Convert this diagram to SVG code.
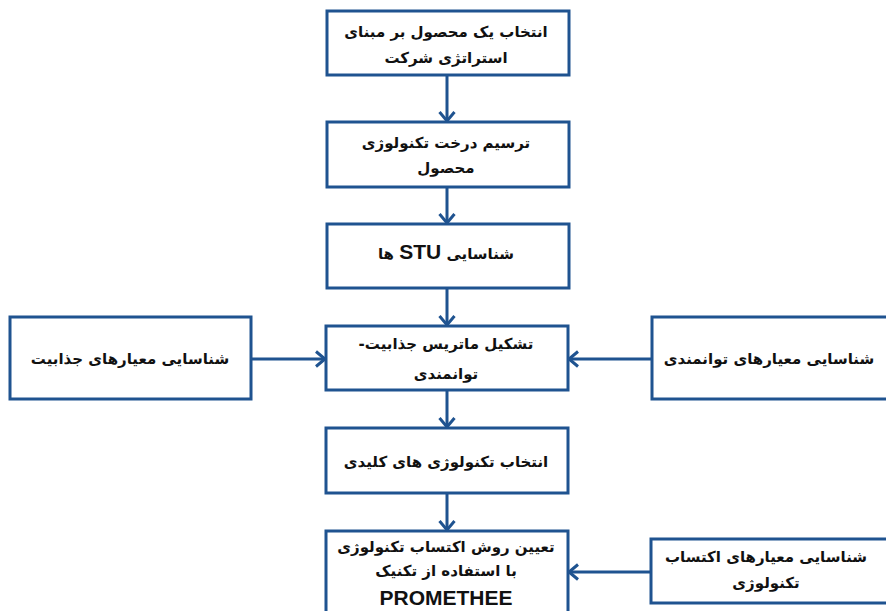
<svg xmlns="http://www.w3.org/2000/svg" width="886" height="611" viewBox="0 0 886 611">
<defs>
<style>
.box{fill:#fff;stroke:#1f5390;stroke-width:3}
.conn{stroke:#1f5390;stroke-width:3;fill:none}
.t{font-family:"DejaVu Sans",sans-serif;font-weight:bold;font-size:15px;fill:#111;text-anchor:middle;direction:rtl}
.lat{font-family:"Liberation Sans",Arial,sans-serif;font-weight:bold;font-size:21px;fill:#111}
</style>
<marker id="ah" markerUnits="userSpaceOnUse" markerWidth="16" markerHeight="18" refX="10" refY="9" orient="auto">
<path d="M1,1.5 L10,9 L1,16.5" fill="none" stroke="#1f5390" stroke-width="3"/>
</marker>
</defs>
<rect width="886" height="611" fill="#fff"/>
<g id="connectors">
<line class="conn" x1="447" y1="75" x2="447" y2="121" marker-end="url(#ah)"/>
<line class="conn" x1="447" y1="187" x2="447" y2="223" marker-end="url(#ah)"/>
<line class="conn" x1="447" y1="288" x2="447" y2="325" marker-end="url(#ah)"/>
<line class="conn" x1="447" y1="390" x2="447" y2="427" marker-end="url(#ah)"/>
<line class="conn" x1="447" y1="493" x2="447" y2="530" marker-end="url(#ah)"/>
<line class="conn" x1="251" y1="359" x2="325" y2="359" marker-end="url(#ah)"/>
<line class="conn" x1="652" y1="359" x2="569" y2="359" marker-end="url(#ah)"/>
<line class="conn" x1="651" y1="572" x2="569" y2="572" marker-end="url(#ah)"/>
</g>
<g id="n1"><rect class="box" x="327" y="11" width="242" height="64"/>
<text class="t" x="446" y="37">انتخاب یک محصول بر مبنای</text>
<text class="t" x="446" y="63">استراتژی شرکت</text></g>
<g id="n2"><rect class="box" x="327" y="122" width="242" height="65"/>
<text class="t" x="446" y="148">ترسیم درخت تکنولوژی</text>
<text class="t" x="446" y="173">محصول</text></g>
<g id="n3"><rect class="box" x="327" y="224" width="242" height="64"/>
<text class="t" x="446" y="259">شناسایی <tspan class="lat">STU</tspan> ها</text></g>
<g id="n4"><rect class="box" x="326" y="326" width="242" height="64"/>
<text class="t" x="446" y="349">تشکیل ماتریس جذابیت-</text>
<text class="t" x="446" y="379">توانمندی</text></g>
<g id="n5"><rect class="box" x="10" y="317" width="241" height="82"/>
<text class="t" x="130" y="364">شناسایی معیارهای جذابیت</text></g>
<g id="n6"><rect class="box" x="652" y="317" width="240" height="82"/>
<text class="t" x="769" y="364">شناسایی معیارهای توانمندی</text></g>
<g id="n7"><rect class="box" x="326" y="428" width="242" height="65"/>
<text class="t" x="446" y="467">انتخاب تکنولوژی های کلیدی</text></g>
<g id="n8"><rect class="box" x="326" y="531" width="242" height="90"/>
<text class="t" x="446" y="552">تعیین روش اکتساب تکنولوژی</text>
<text class="t" x="446" y="576">با استفاده از تکنیک</text>
<text class="lat" x="446" y="605" text-anchor="middle">PROMETHEE</text></g>
<g id="n9"><rect class="box" x="651" y="539" width="240" height="64"/>
<text class="t" x="766" y="562">شناسایی معیارهای اکتساب</text>
<text class="t" x="766" y="588">تکنولوژی</text></g>
</svg>
